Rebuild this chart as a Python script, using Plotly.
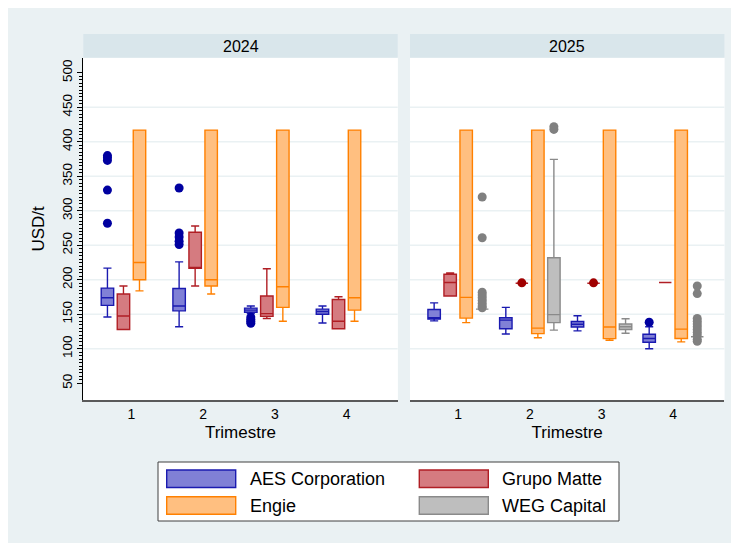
import plotly.graph_objects as go

# ---------------- data ----------------
QUARTERS = [1, 2, 3, 4]
YEARS = ["2024", "2025"]
COMPANIES = ["AES Corporation", "Grupo Matte", "Engie", "WEG Capital"]
Y_TICKS = [50, 100, 150, 200, 250, 300, 350, 400, 450, 500]
GRID_VALUES = [100, 150, 200, 250, 300, 350, 400, 450]
X_TITLE = "Trimestre"
Y_TITLE = "USD/t"

# box statistics per quarter (q1, median, q3, whisker ends, outliers)
AES_2024 = dict(q1=[163, 155, 153, 150], median=[174, 162, 156, 154],
                q3=[188, 187.5, 159, 157.5], lower=[146, 132, 151, 137.5],
                upper=[217, 226, 162, 162],
                outliers=[[380, 377, 373, 330, 282], [333, 268, 262, 256, 251],
                          [146, 143, 140, 137], []])
MATTE_2024 = dict(q1=[128, 216.5, 147, 129], median=[147.5, 216.5, 151, 140],
                  q3=[179.5, 269, 176.5, 171.5], lower=[128, 191, 144, 129],
                  upper=[191, 278, 216, 175.5], outliers=[[], [], [], []])
ENGIE_2024 = dict(q1=[200, 191, 160, 156], median=[225, 200, 190, 174],
                  q3=[417, 417, 417, 417], lower=[184, 179.5, 140, 140],
                  upper=[417, 417, 417, 417], outliers=[[], [], [], []])
WEG_2024 = None  # no observations in 2024

AES_2025 = dict(q1=[143, 129, 131.5, 109.5], median=[145, 141.5, 135.5, 115],
                q3=[157, 145, 139.5, 121], lower=[140.5, 121.5, 126, 100],
                upper=[166.5, 160, 148, 132], outliers=[[], [], [], [138.5]])
MATTE_2025 = dict(q1=[176.5, 195, 195, 196], median=[196, 195, 195, 196],
                  q3=[208, 195, 195, 196], lower=[176.5, 195, 195, 196],
                  upper=[210, 195, 195, 196], outliers=[[], [195.6], [195.6], []])
ENGIE_2025 = dict(q1=[144.5, 122, 114.7, 115], median=[174.5, 130, 131.6, 128.5],
                  q3=[417, 417, 417, 417], lower=[138, 116, 112.3, 110],
                  upper=[417, 417, 417, 417], outliers=[[], [], [], []])
WEG_2025 = dict(q1=[157.5, 138, 128, 117.5], median=[157.5, 149.5, 132, 117.5],
                q3=[157.5, 232, 136, 117.5], lower=[157.5, 127, 122.5, 117.5],
                upper=[157.5, 374.5, 143.5, 117.5],
                outliers=[[320, 261, 182, 178, 174, 170, 166, 162, 159.5],
                          [422, 418], [],
                          [191, 180, 144, 140, 136, 132, 128, 124, 120, 114, 111]])

SERIES = {
    "2024": [AES_2024, MATTE_2024, ENGIE_2024, WEG_2024],
    "2025": [AES_2025, MATTE_2025, ENGIE_2025, WEG_2025],
}

# ---------------- style ----------------
FILL = ["#8080D6", "#D57B80", "#FFBF80", "#BEBEBE"]
LINE = ["#1A1AB0", "#B01E24", "#FF8000", "#8A8A8A"]
MARK = ["#0000A0", "#A00000", "#FF8000", "#808080"]
BG = "#EAF1F3"
STRIP = "#D9E6EB"
FONT = "Liberation Sans, Arial, sans-serif"

W, H = 739, 543
OFF = 8  # page margin of the screenshot


def fx(px):
    return (px - OFF) / W


def fy(py):
    return 1 - (py - OFF) / H


BOXGAP, BOXGROUPGAP = 0.106, 0.223
PITCH = (1 - BOXGAP) / len(COMPANIES)
BOXW = PITCH * (1 - BOXGROUPGAP)
XRANGE = [0.328, 4.714]
YRANGE = [25.8, 521.9]

XDOMS = [[fx(83.3), fx(397.7)], [fx(410), fx(724.4)]]
YDOM = [fy(400), fy(57.7)]

fig = go.Figure()

for yi, year in enumerate(YEARS):
    xa = "x" if yi == 0 else "x2"
    ya = "y" if yi == 0 else "y2"
    for ci, name in enumerate(COMPANIES):
        s = SERIES[year][ci]
        if s is None:
            continue
        pos = [q + (ci - (len(COMPANIES) - 1) / 2) * PITCH for q in QUARTERS]
        pts = [o if len(o) else [None] for o in s["outliers"]]
        fig.add_trace(go.Box(
            x=pos, q1=s["q1"], median=s["median"], q3=s["q3"],
            lowerfence=s["lower"], upperfence=s["upper"], y=pts,
            boxpoints="outliers", jitter=0, pointpos=0,
            width=BOXW, whiskerwidth=0.65,
            fillcolor=FILL[ci], line=dict(color=LINE[ci], width=1.4),
            marker=dict(color=MARK[ci], size=9, line=dict(width=0)),
            name=name, showlegend=False, hoverinfo="skip",
            xaxis=xa, yaxis=ya))

shapes = []
for yi, year in enumerate(YEARS):
    xd = XDOMS[yi]
    xa = "x" if yi == 0 else "x2"
    ya = "y" if yi == 0 else "y2"
    shapes.append(dict(type="rect", xref="paper", yref="paper", x0=xd[0], x1=xd[1],
                       y0=YDOM[0], y1=YDOM[1], fillcolor="white",
                       line=dict(width=0), layer="below"))
    shapes.append(dict(type="rect", xref="paper", yref="paper", x0=xd[0], x1=xd[1],
                       y0=YDOM[1], y1=fy(34), fillcolor=STRIP,
                       line=dict(width=0), layer="below"))
    for g in GRID_VALUES:
        shapes.append(dict(type="line", xref=xa + " domain", yref=ya, x0=0, x1=1,
                           y0=g, y1=g, line=dict(color=BG, width=1.6),
                           layer="below"))

# legend box
LEG = dict(x0=158, x1=619, y0=462, y1=521)
shapes.append(dict(type="rect", xref="paper", yref="paper", x0=fx(LEG["x0"]),
                   x1=fx(LEG["x1"]), y0=fy(LEG["y1"]), y1=fy(LEG["y0"]),
                   fillcolor="white", line=dict(color="#404040", width=1),
                   layer="below"))
annotations = []
SW_X = [166.7, 419.3]
SW_Y = [470, 496.7]
for ci, name in enumerate(COMPANIES):
    col, row = ci % 2, ci // 2
    shapes.append(dict(type="rect", xref="paper", yref="paper",
                       x0=fx(SW_X[col]), x1=fx(SW_X[col] + 69),
                       y0=fy(SW_Y[row] + 17.5), y1=fy(SW_Y[row]),
                       fillcolor=FILL[ci], line=dict(color=LINE[ci], width=1.4),
                       layer="below"))
    annotations.append(dict(text=name, xref="paper", yref="paper",
                            x=fx(SW_X[col] + 81), y=fy(SW_Y[row] + 9),
                            xanchor="left", yanchor="middle", showarrow=False,
                            font=dict(family=FONT, size=18, color="black")))

for yi, year in enumerate(YEARS):
    xd = XDOMS[yi]
    annotations.append(dict(text=year, xref="paper", yref="paper",
                            x=(xd[0] + xd[1]) / 2, y=fy(46), xanchor="center",
                            yanchor="middle", showarrow=False,
                            font=dict(family=FONT, size=16, color="black")))

xaxis_common = dict(range=XRANGE, tickmode="array", tickvals=QUARTERS,
                    ticktext=[str(q) for q in QUARTERS], ticks="",
                    showgrid=False, zeroline=False, showline=True,
                    linecolor="#5A5A5A", linewidth=1.6,
                    tickfont=dict(family=FONT, size=14, color="black"),
                    title=dict(text=X_TITLE, standoff=6,
                               font=dict(family=FONT, size=17, color="black")),
                    fixedrange=True)

fig.update_layout(
    width=W, height=H, margin=dict(l=0, r=0, t=0, b=0),
    paper_bgcolor=BG, plot_bgcolor="white",
    boxmode="overlay", showlegend=False,
    font=dict(family=FONT, color="black"),
    xaxis=dict(domain=XDOMS[0], anchor="y", **xaxis_common),
    xaxis2=dict(domain=XDOMS[1], anchor="y2", **xaxis_common),
    yaxis=dict(domain=YDOM, anchor="x", range=YRANGE, tickmode="array",
               tickvals=Y_TICKS, ticktext=[str(v) for v in Y_TICKS],
               tickangle=-90, ticks="outside", ticklen=5, tickwidth=1,
               tickcolor="black", showline=True, linecolor="black",
               linewidth=1.2, showgrid=False, zeroline=False,
               ticklabelstandoff=0,
               minor=dict(tickmode="array",
                          tickvals=[v for v in range(55, 500, 5) if v % 50],
                          ticks="outside", ticklen=3, tickcolor="black",
                          showgrid=False),
               tickfont=dict(family=FONT, size=13.5, color="black"),
               title=dict(text=Y_TITLE, standoff=10,
                          font=dict(family=FONT, size=17, color="black")),
               fixedrange=True),
    yaxis2=dict(domain=YDOM, anchor="x2", range=YRANGE, matches="y",
                showticklabels=False, ticks="", showline=False,
                showgrid=False, zeroline=False, fixedrange=True),
    shapes=shapes, annotations=annotations,
)

fig.write_html("out.html")
